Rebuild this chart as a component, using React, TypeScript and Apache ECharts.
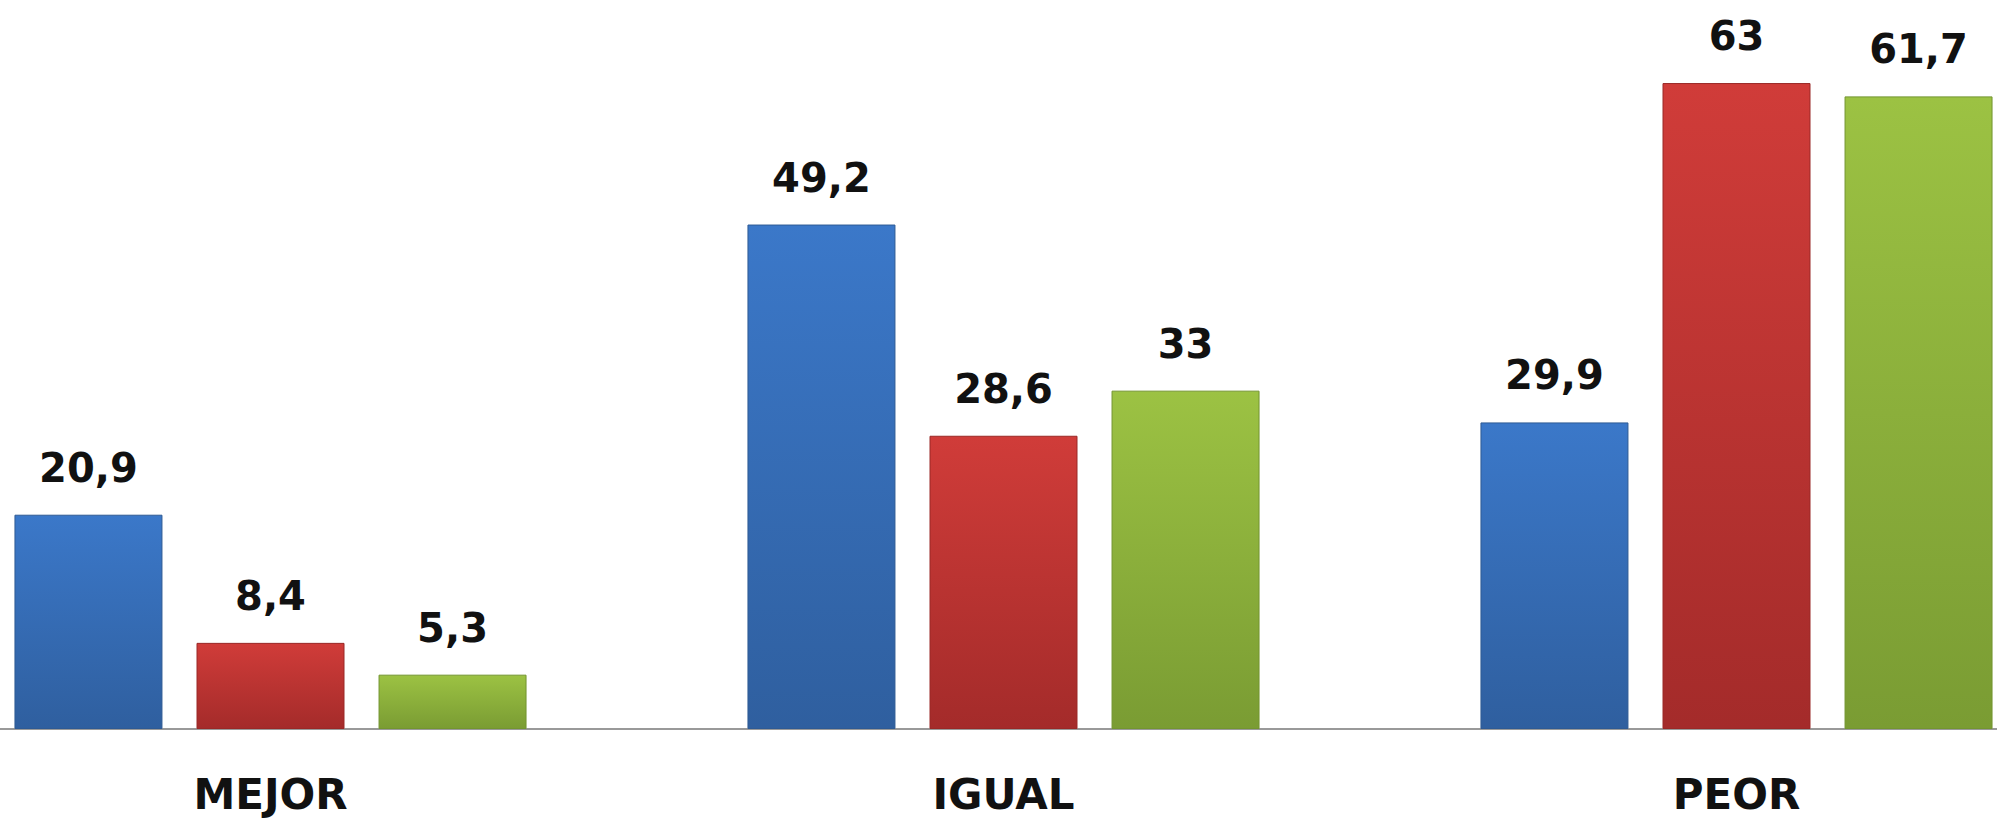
import React, { useEffect, useRef } from "react";
import * as echarts from "echarts";

const categories = ["MEJOR", "IGUAL", "PEOR"];
const seriesNames = ["Serie 1", "Serie 2", "Serie 3"];
const valuesBlue = [20.9, 49.2, 29.9];
const valuesRed = [8.4, 28.6, 63];
const valuesGreen = [5.3, 33, 61.7];

const grad = (top: string, bottom: string) =>
  new echarts.graphic.LinearGradient(0, 0, 0, 1, [
    { offset: 0, color: top },
    { offset: 1, color: bottom },
  ]);

export default function App() {
  const ref = useRef<HTMLDivElement>(null);
  useEffect(() => {
    document.body.style.margin = "0";
    if (!ref.current) return;
    const chart = echarts.init(ref.current, undefined, { renderer: "svg" });
    const fmt = (p: any) => String(p.value).replace(".", ",");
    const label = {
      show: true,
      position: "top" as const,
      distance: 27,
      formatter: fmt,
      fontFamily: "DejaVu Sans, Verdana, sans-serif",
      fontWeight: "bold" as const,
      fontSize: 40,
      color: "#111",
    };
    const mk = (name: string, data: number[], top: string, bottom: string, border: string) => ({
      name,
      type: "bar" as const,
      data,
      barWidth: 148,
      barGap: "23%",
      itemStyle: { color: grad(top, bottom), borderColor: border, borderWidth: 1 },
      label,
    });
    chart.setOption({
      animation: false,
      backgroundColor: "#ffffff",
      grid: { left: -96, width: 2199, top: 0, bottom: 91, outerBoundsMode: "none", containLabel: false },
      xAxis: {
        type: "category",
        data: categories,
        axisLine: { lineStyle: { color: "#999", width: 2 } },
        axisTick: { show: false },
        axisLabel: {
          margin: 44,
          lineHeight: 42,
          fontFamily: "DejaVu Sans, Verdana, sans-serif",
          fontWeight: "bold",
          fontSize: 42,
          color: "#111",
        },
      },
      yAxis: {
        type: "value",
        min: 0,
        max: 71.1,
        show: false,
        splitLine: { show: false },
      },
      series: [
        mk(seriesNames[0], valuesBlue, "#3B78C9", "#2F5F9F", "#2E5A94"),
        mk(seriesNames[1], valuesRed, "#D03C39", "#A42B2A", "#9A2826"),
        mk(seriesNames[2], valuesGreen, "#9CC243", "#7A9C33", "#739530"),
      ],
    });
    return () => chart.dispose();
  }, []);
  return <div ref={ref} style={{ width: 1997, height: 820 }} />;
}
